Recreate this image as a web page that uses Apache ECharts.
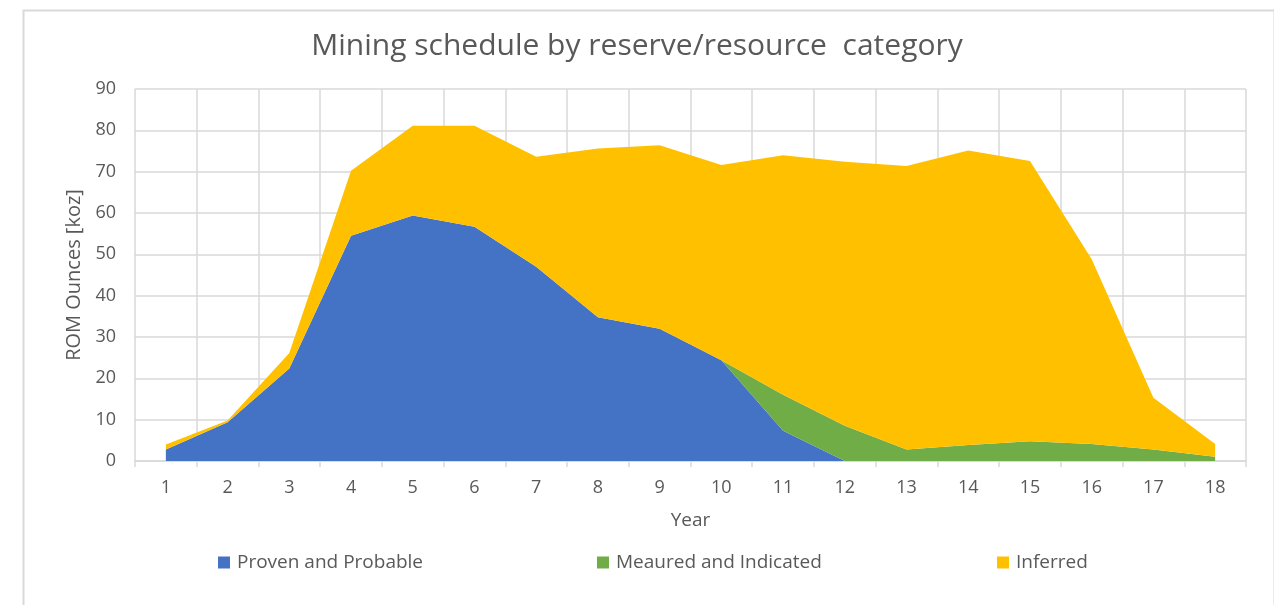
<!DOCTYPE html>
<html>
<head>
<meta charset="utf-8">
<script src="https://cdn.jsdelivr.net/npm/echarts@6/dist/echarts.min.js"></script>
<style>
html,body{margin:0;padding:0;background:#fff;}
#c{width:1274px;height:605px;}
</style>
</head>
<body>
<div id="c"></div>
<script>
const years = ['1','2','3','4','5','6','7','8','9','10','11','12','13','14','15','16','17','18'];
const provenProbable = [2.8, 9.4, 22.4, 54.5, 59.4, 56.7, 47.0, 34.8, 32.0, 24.4, 7.3, 0, 0, 0, 0, 0, 0, 0];
const measuredIndicated = [0, 0, 0, 0, 0, 0, 0, 0, 0, 0, 8.7, 8.5, 2.8, 3.9, 4.8, 4.1, 2.8, 1.0];
const inferred = [1.2, 0.4, 3.7, 15.7, 21.7, 24.4, 26.6, 40.8, 44.4, 47.2, 58.0, 63.9, 68.6, 71.2, 67.8, 44.7, 12.5, 3.1];
const seriesNames = ['Proven and Probable', 'Meaured and Indicated', 'Inferred'];
const colors = ['#4472C4', '#70AD47', '#FFC000'];

const FONT = '"Open Sans", "Noto Sans", sans-serif';
const chart = echarts.init(document.getElementById('c'));

function areaSeries(name, data, color) {
  return {
    name: name, type: 'line', stack: 'total', data: data,
    showSymbol: false, symbol: 'none',
    lineStyle: { width: 0, color: color },
    itemStyle: { color: color },
    areaStyle: { color: color, opacity: 1 },
    emphasis: { disabled: true }
  };
}

function legendAt(left, name) {
  return {
    data: [name], left: left, top: 548, orient: 'horizontal',
    icon: 'rect', itemWidth: 12, itemHeight: 12, itemGap: 0,
    textStyle: { fontFamily: FONT, fontSize: 19, color: '#595959', padding: [0, 0, 0, 2] }
  };
}

chart.setOption({
  animation: false,
  color: colors,
  title: {
    text: 'Mining schedule by reserve/resource  category',
    left: 'center', top: 26,
    textStyle: { fontFamily: FONT, fontSize: 30, fontWeight: 'normal', color: '#595959' }
  },
  legend: [
    legendAt(213, seriesNames[0]),
    legendAt(592, seriesNames[1]),
    legendAt(992, seriesNames[2])
  ],
  graphic: [{
    type: 'rect', left: 21, top: 8, silent: true,
    shape: { x: 0, y: 0, width: 1251, height: 640 },
    style: { fill: 'none', stroke: '#d9d9d9', lineWidth: 2 }
  }],
  grid: { left: 135, right: 28, top: 89, bottom: 144, containLabel: false },
  xAxis: {
    type: 'category', data: years, boundaryGap: true,
    name: 'Year', nameLocation: 'middle', nameGap: 50,
    nameTextStyle: { fontFamily: FONT, fontSize: 19, color: '#595959' },
    axisLine: { show: true, lineStyle: { color: '#d9d9d9', width: 1.5 } },
    axisTick: { show: true, length: 6, lineStyle: { color: '#d9d9d9', width: 1.5 } },
    axisLabel: { fontFamily: FONT, fontSize: 18, color: '#595959', margin: 18 },
    splitLine: { show: true, lineStyle: { color: '#d9d9d9', width: 1.5 } }
  },
  yAxis: {
    type: 'value', min: 0, max: 90, interval: 10,
    name: 'ROM Ounces [koz]', nameLocation: 'middle', nameGap: 51,
    nameTextStyle: { fontFamily: FONT, fontSize: 20, color: '#595959' },
    axisLine: { show: false },
    axisTick: { show: false },
    axisLabel: { fontFamily: FONT, fontSize: 18, color: '#595959', margin: 19 },
    splitLine: { show: true, lineStyle: { color: '#d9d9d9', width: 1.5 } }
  },
  series: [
    areaSeries(seriesNames[0], provenProbable, colors[0]),
    areaSeries(seriesNames[1], measuredIndicated, colors[1]),
    areaSeries(seriesNames[2], inferred, colors[2])
  ]
});
</script>
</body>
</html>
